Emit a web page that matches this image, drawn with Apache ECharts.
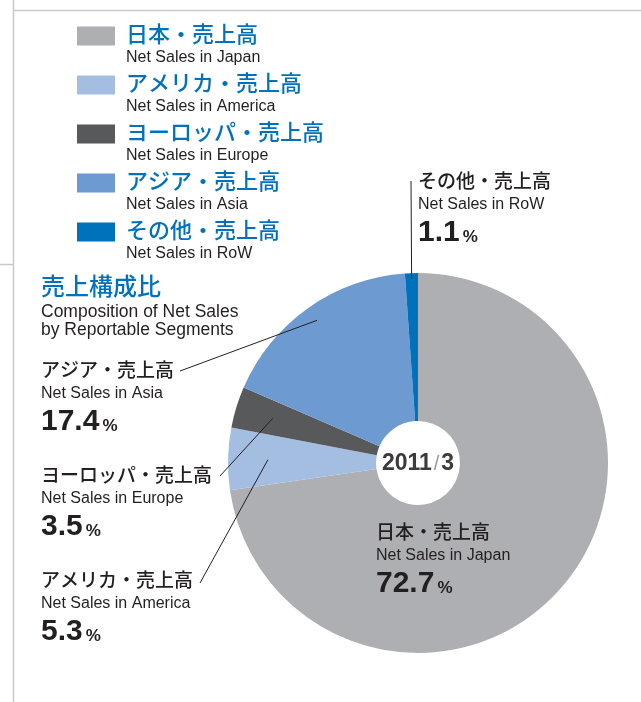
<!DOCTYPE html>
<html>
<head>
<meta charset="utf-8">
<script src="https://cdn.jsdelivr.net/npm/echarts@6/dist/echarts.min.js"></script>
<style>
  html, body { margin: 0; padding: 0; background: #fff; }
  #composition { width: 641px; height: 702px; }
</style>
</head>
<body>
<div id="composition"></div>
<script>
// データ
const segmentsJa = ['日本・売上高', 'アメリカ・売上高', 'ヨーロッパ・売上高', 'アジア・売上高', 'その他・売上高'];
const segmentsEn = ['Net Sales in Japan', 'Net Sales in America', 'Net Sales in Europe', 'Net Sales in Asia', 'Net Sales in RoW'];
const shares = [72.7, 5.3, 3.5, 17.4, 1.1];
const periodYear = '2011';
const periodMonth = '3';
const titleJa = '売上構成比';
const titleEn = ['Composition of Net Sales', 'by Reportable Segments'];

const colors = ['#aeafb3', '#a4bee2', '#58595b', '#6d9bd1', '#0072bc'];
const FONT = '"Liberation Sans", Arial, "Noto Sans CJK JP", sans-serif';
const DARK = '#231f20';
const BLUE = '#0071bc';

const chart = echarts.init(document.getElementById('composition'));

const cx = 418, cy = 463, r0 = 42, r1 = 190;

// ラベル位置 (左上x, 日本語行の中心y) と引出線
const labelPos = [
  { x: 376, y: 534 },
  { x: 41, y: 582, line: [200, 583], depth: 0.79 },
  { x: 41, y: 477, line: [220, 476], depth: 0.8 },
  { x: 41, y: 372, line: [180, 371], depth: 0.92 },
  { x: 418, y: 183, line: [411, 181], depth: 0.97 }
];

const labelRich = {
  j: { fontFamily: FONT, fontSize: 19, lineHeight: 22, fill: DARK, fontWeight: 500 },
  e: { fontFamily: FONT, fontSize: 16, lineHeight: 22, fill: DARK },
  n: { fontFamily: FONT, fontSize: 30, fontWeight: 'bold', lineHeight: 34, fill: DARK },
  p: { fontFamily: FONT, fontSize: 17, fontWeight: 'bold', lineHeight: 34, fill: DARK, verticalAlign: 'bottom', padding: [0, 0, 4, 3] }
};

const graphics = [
  // 枠線
  { type: 'line', shape: { x1: 13.5, y1: 0, x2: 13.5, y2: 702 }, style: { stroke: '#c9c9c9', lineWidth: 1.5 }, silent: true },
  { type: 'line', shape: { x1: 13, y1: 10.5, x2: 641, y2: 10.5 }, style: { stroke: '#c9c9c9', lineWidth: 1.5 }, silent: true },
  { type: 'line', shape: { x1: 0, y1: 264.5, x2: 13, y2: 264.5 }, style: { stroke: '#c9c9c9', lineWidth: 1.5 }, silent: true },
  // タイトル
  {
    type: 'text', x: 41, y: 288 - 15.5, silent: true,
    style: {
      text: '{t|' + titleJa + '}\n{e|' + titleEn[0] + '}\n{e|' + titleEn[1] + '}',
      verticalAlign: 'top',
      rich: {
        t: { fontFamily: FONT, fontSize: 24, lineHeight: 31, fill: BLUE, fontWeight: 500 },
        e: { fontFamily: FONT, fontSize: 17.5, lineHeight: 18, fill: DARK }
      }
    }
  },
  // 中央
  {
    type: 'text', x: cx, y: cy + 1, silent: true, z: 10,
    style: {
      text: '{y|' + periodYear + '}{s|/}{y|' + periodMonth + '}',
      align: 'center', verticalAlign: 'middle',
      rich: {
        y: { fontFamily: FONT, fontSize: 23, fontWeight: 'bold', fill: '#3e3a39' },
        s: { fontFamily: FONT, fontSize: 20, fill: '#9a9a9a', padding: [0, 2, 0, 2] }
      }
    }
  }
];

let acc = 0;
shares.forEach(function (v, i) {
  const pos = labelPos[i];
  graphics.push({
    type: 'text', x: pos.x, y: pos.y - 11, silent: true, z: 10,
    style: {
      text: '{j|' + segmentsJa[i] + '}\n{e|' + segmentsEn[i] + '}\n{n|' + v.toFixed(1) + '}{p|%}',
      verticalAlign: 'top',
      rich: labelRich
    }
  });
  const mid = (acc + v / 2) / 100 * Math.PI * 2;
  acc += v;
  if (pos.line) {
    const rr = r1 * pos.depth;
    graphics.push({
      type: 'polyline', silent: true, z: 10,
      shape: { points: [[cx + rr * Math.sin(mid), cy - rr * Math.cos(mid)], pos.line] },
      style: { stroke: DARK, lineWidth: 1, fill: null }
    });
  }
});

const option = {
  animation: false,
  color: colors,
  legend: {
    orient: 'vertical',
    left: 77,
    top: 9,
    padding: 0,
    itemWidth: 38,
    itemHeight: 19,
    itemGap: -8,
    icon: 'rect',
    selectedMode: false,
    data: segmentsJa,
    formatter: function (name) {
      const i = segmentsJa.indexOf(name);
      return '{s| }\n{a|' + name + '}\n{b|' + segmentsEn[i] + '}';
    },
    textStyle: {
      fontFamily: FONT,
      rich: {
        s: { fontSize: 10, lineHeight: 20 },
        a: { fontFamily: FONT, fontSize: 22, lineHeight: 24, color: BLUE, fontWeight: 500, padding: [0, 0, 0, 6] },
        b: { fontFamily: FONT, fontSize: 16, lineHeight: 20, color: DARK, padding: [0, 0, 0, 6] }
      }
    }
  },
  series: [{
    type: 'pie',
    center: [cx, cy],
    radius: [r0, r1],
    startAngle: 90,
    clockwise: true,
    silent: true,
    label: { show: false },
    labelLine: { show: false },
    data: segmentsJa.map(function (n, i) { return { name: n, value: shares[i] }; })
  }],
  graphic: graphics
};

chart.setOption(option);
</script>
</body>
</html>
